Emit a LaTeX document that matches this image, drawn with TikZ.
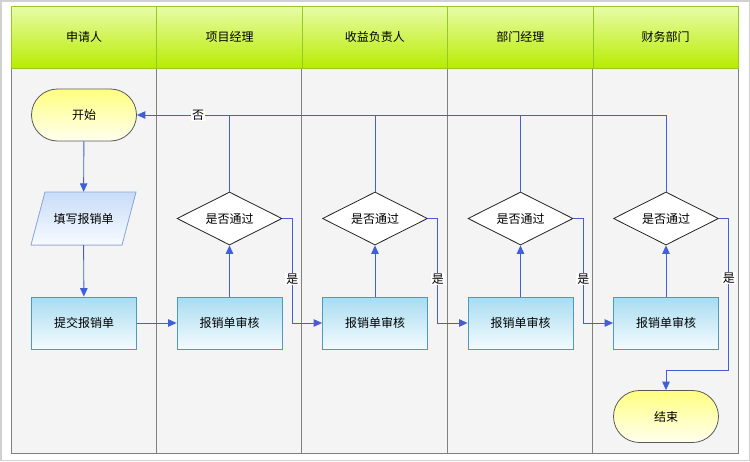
\documentclass[tikz,border=0pt]{standalone}
\usepackage{fontspec}
\setmainfont{Noto Sans CJK SC}
\usetikzlibrary{shapes.geometric,arrows.meta}
\definecolor{lineblue}{RGB}{65,95,215}
\definecolor{hdtop}{RGB}{232,252,168}
\definecolor{hdbot}{RGB}{184,236,0}
\definecolor{hdline}{RGB}{150,200,40}
\definecolor{bodybg}{RGB}{244,244,244}
\definecolor{divgray}{RGB}{128,128,128}
\definecolor{termtop}{RGB}{255,255,128}
\definecolor{termbot}{RGB}{255,255,240}
\definecolor{proctop}{RGB}{168,220,240}
\definecolor{procbot}{RGB}{244,251,255}
\definecolor{procline}{RGB}{74,155,190}
\definecolor{iotop}{RGB}{200,220,248}
\definecolor{iobot}{RGB}{248,251,255}
\definecolor{ioline}{RGB}{140,170,220}
\begin{document}
\begin{tikzpicture}[x=1pt,y=-1pt,
  font=\fontsize{12}{14}\selectfont,
  hdr/.style={draw=hdline,line width=0.8pt,top color=hdtop,bottom color=hdbot,minimum width=145.4pt,minimum height=62pt,inner sep=0pt,anchor=north west},
  term/.style={draw=black!65,line width=0.8pt,top color=termtop,bottom color=termbot,rounded corners=26pt,minimum width=105pt,minimum height=52pt,inner sep=0pt},
  proc/.style={draw=procline,line width=0.8pt,top color=proctop,bottom color=procbot,minimum width=105pt,minimum height=52pt,inner sep=0pt},
  dec/.style={diamond,aspect=2,draw=black!85,line width=0.8pt,fill=white,minimum width=105pt,minimum height=53pt,inner sep=0pt},
  conn/.style={draw=lineblue,line width=0.9pt},
  arr/.style={conn,-{Triangle[length=8.5pt,width=7.5pt]}},
  lbl/.style={fill=white,inner sep=1pt,text=black}
]
\useasboundingbox (0,0) rectangle (750,461);
\draw[black!18,line width=1.5pt] (0.75,0.75) rectangle (749.25,460.25);
% body
\fill[bodybg] (11,68) rectangle (738,453);
\foreach \i in {1,2,3,4} {\draw[divgray,line width=0.9pt] ({11+145.4*\i},68) -- ({11+145.4*\i},453);}
\draw[divgray,line width=0.9pt] (11,68) -- (11,453) -- (738,453) -- (738,68);
% headers
\node[hdr] (h1) at (11,6) {申请人};
\node[hdr] (h2) at (156.4,6) {项目经理};
\node[hdr] (h3) at (301.8,6) {收益负责人};
\node[hdr] (h4) at (447.2,6) {部门经理};
\node[hdr] (h5) at (592.6,6) {财务部门};
% nodes
\node[term] (start) at (84,115) {开始};
\fill[top color=iotop,bottom color=iobot] (45,192) -- (136,192) -- (122,245) -- (31,245) -- cycle;
\draw[ioline,line width=0.8pt] (45,192) -- (136,192) -- (122,245) -- (31,245) -- cycle;
\node[minimum width=91pt,minimum height=53pt,inner sep=0pt] (fill) at (83.5,218.5) {填写报销单};
\node[proc] (sub) at (84,323) {提交报销单};
\node[proc] (r1) at (229.5,323) {报销单审核};
\node[proc] (r2) at (375,323) {报销单审核};
\node[proc] (r3) at (520.5,323) {报销单审核};
\node[proc] (r4) at (666,323) {报销单审核};
\node[dec] (d1) at (229.5,218.5) {是否通过};
\node[dec] (d2) at (375,218.5) {是否通过};
\node[dec] (d3) at (520.5,218.5) {是否通过};
\node[dec] (d4) at (666,218.5) {是否通过};
\node[term] (end) at (666,416.5) {结束};
% connectors
\draw[arr] (start) -- (fill);
\draw[arr] (fill) -- (sub);
\draw[arr] (sub) -- (r1);
\foreach \k in {1,2,3,4} {\draw[arr] (r\k) -- (d\k);}
\draw[conn] (d1.north) -- (d1.north |- start.east);
\draw[conn] (d2.north) -- (d2.north |- start.east);
\draw[conn] (d3.north) -- (d3.north |- start.east);
\draw[arr] (d4.north) |- (start.east);
\node[lbl] (no) at (198,115) {否};
\draw[arr] (d1.east) -- ++(10,0) |- node[lbl,pos=0.29]{是} (r2.west);
\draw[arr] (d2.east) -- ++(10,0) |- node[lbl,pos=0.29]{是} (r3.west);
\draw[arr] (d3.east) -- ++(10,0) |- node[lbl,pos=0.29]{是} (r4.west);
\draw[arr] (d4.east) -- ++(10,0) -- node[lbl,pos=0.39]{是} ++(0,152) -| (end.north);
\end{tikzpicture}
\end{document}
